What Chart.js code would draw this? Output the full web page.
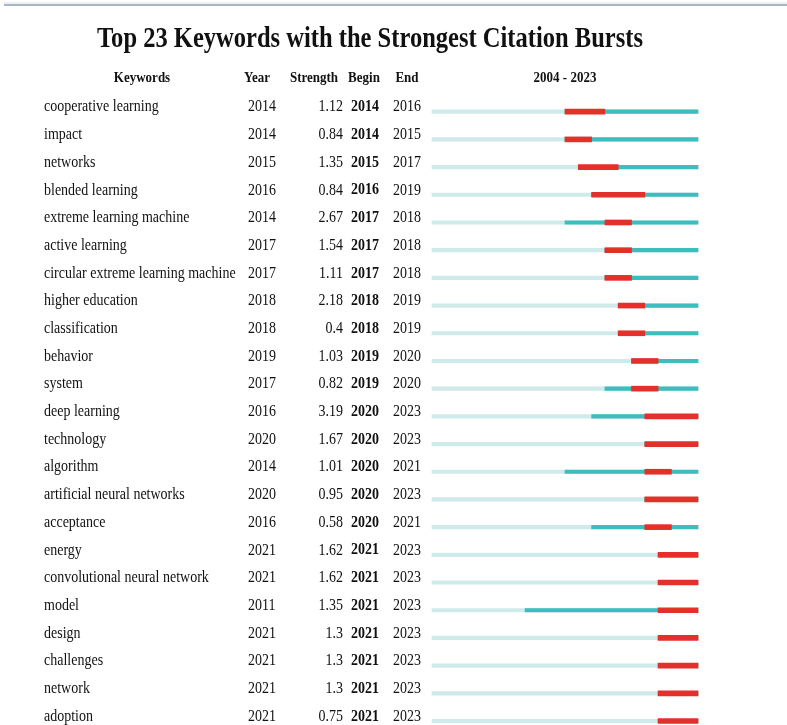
<!DOCTYPE html>
<html>
<head>
<meta charset="utf-8">
<style>
  html, body { margin: 0; padding: 0; background: #fff; overflow: hidden; }
  #wrap { width: 787px; height: 725px; position: relative; }
</style>
</head>
<body>
<div id="wrap">
    <canvas id="burstChart"></canvas>
</div>

<script src="https://cdn.jsdelivr.net/npm/chart.js"></script>

<script>
    const keywords = ['cooperative learning', 'impact', 'networks', 'blended learning',
        'extreme learning machine', 'active learning', 'circular extreme learning machine',
        'higher education', 'classification', 'behavior', 'system', 'deep learning',
        'technology', 'algorithm', 'artificial neural networks', 'acceptance', 'energy',
        'convolutional neural network', 'model', 'design', 'challenges', 'network', 'adoption'];
    const years = [2014, 2014, 2015, 2016, 2014, 2017, 2017, 2018, 2018, 2019, 2017, 2016,
        2020, 2014, 2020, 2016, 2021, 2021, 2011, 2021, 2021, 2021, 2021];
    const strengths = ['1.12', '0.84', '1.35', '0.84', '2.67', '1.54', '1.11', '2.18', '0.4',
        '1.03', '0.82', '3.19', '1.67', '1.01', '0.95', '0.58', '1.62', '1.62', '1.35',
        '1.3', '1.3', '1.3', '0.75'];
    const begins = [2014, 2014, 2015, 2016, 2017, 2017, 2017, 2018, 2018, 2019, 2019, 2020,
        2020, 2020, 2020, 2020, 2021, 2021, 2021, 2021, 2021, 2021, 2021];
    const ends = [2016, 2015, 2017, 2019, 2018, 2018, 2018, 2019, 2019, 2020, 2020, 2023,
        2023, 2021, 2023, 2021, 2023, 2023, 2023, 2023, 2023, 2023, 2023];
    const firstYear = 2004;
    const lastYear = 2023;

    const SY = 1.15; // the picture's text looks a bit taller than it is wide
    const serif = '"Liberation Serif", "Times New Roman", serif';

    function drawText(c, s, x, y, font, align, sx) {
        c.save();
        c.translate(x, y);
        c.scale(sx || 1, SY);
        c.font = font;
        c.textAlign = align;
        c.textBaseline = 'middle';
        c.fillStyle = '#111';
        c.fillText(s, 0, 0);
        c.restore();
    }

    const tablePlugin = {
        id: 'burstTable',
        beforeDraw(chart) {
            const c = chart.ctx;
            c.save();
            c.fillStyle = '#eef1f4';
            c.fillRect(4, 2, 783, 2);
            c.fillStyle = '#aab6c3';
            c.fillRect(4, 4, 783, 2);
            c.restore();
        },
        afterDraw(chart) {
            const c = chart.ctx;
            const yScale = chart.scales.y;
            const area = chart.chartArea;

            // title, squeezed to the width it has in the picture
            c.save();
            c.font = 'bold 25px ' + serif;
            const tw = c.measureText('Top 23 Keywords with the Strongest Citation Bursts').width;
            c.restore();
            drawText(c, 'Top 23 Keywords with the Strongest Citation Bursts', 370, 40,
                'bold 25px ' + serif, 'center', 546 / tw);

            const hf = 'bold 13px ' + serif;
            drawText(c, 'Keywords', 142, 78, hf, 'center');
            drawText(c, 'Year', 257, 78, hf, 'center');
            drawText(c, 'Strength', 314, 78, hf, 'center');
            drawText(c, 'Begin', 364, 78, hf, 'center');
            drawText(c, 'End', 407, 78, hf, 'center');
            drawText(c, firstYear + ' - ' + lastYear, (area.left + area.right) / 2, 78, hf, 'center');

            const rf = '14px ' + serif;
            const bf = 'bold 14px ' + serif;
            keywords.forEach((k, i) => {
                const y = yScale.getPixelForValue(i) - 4.5;
                drawText(c, k, 44, y, rf, 'left');
                drawText(c, String(years[i]), 248, y, rf, 'left');
                drawText(c, strengths[i], 343, y, rf, 'right');
                drawText(c, String(begins[i]), 351, y, bf, 'left');
                drawText(c, String(ends[i]), 393, y, rf, 'left');
            });
        }
    };

    const data = {
        labels: keywords,
        datasets: [{
            label: 'burst',
            data: keywords.map((k, i) => [begins[i], ends[i] + 1]),
            backgroundColor: '#e3302a',
            barThickness: 5,
            grouped: false,
            clip: false
        }, {
            label: 'present',
            data: keywords.map((k, i) => [years[i], lastYear + 1]),
            backgroundColor: '#3dbdbd',
            barThickness: 3.5,
            grouped: false,
            clip: false
        }, {
            label: 'timeline',
            data: keywords.map(() => [firstYear, lastYear + 1]),
            backgroundColor: '#cfeaeb',
            barThickness: 3.5,
            grouped: false,
            clip: false
        }]
    };

    const config = {
        type: 'bar',
        data: data,
        options: {
            indexAxis: 'y',
            responsive: false,
            animation: false,
            layout: {
                padding: { left: 432, right: 89, top: 111.7, bottom: 4 }
            },
            scales: {
                x: { type: 'linear', min: firstYear, max: lastYear + 1, display: false },
                y: { type: 'category', offset: false, display: false }
            },
            plugins: {
                legend: { display: false },
                tooltip: { enabled: false }
            }
        },
        plugins: [tablePlugin]
    };

    const cv = document.getElementById('burstChart');
    cv.width = 787;
    cv.height = 725;
    new Chart(cv, config);
</script>
</body>
</html>
